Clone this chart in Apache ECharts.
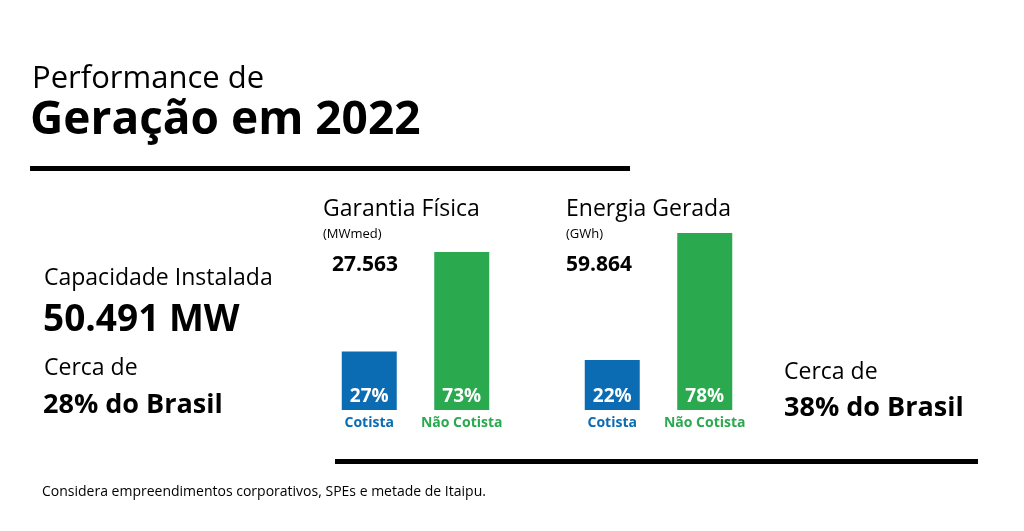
<!DOCTYPE html><html><head><meta charset="utf-8">
<script src="https://cdn.jsdelivr.net/npm/echarts@6/dist/echarts.min.js"></script>
<style>html,body{margin:0;background:#fff}#c{width:1024px;height:531px}</style></head><body><div id="c"></div><script>
const categories=['Cotista','Não Cotista'];
const garantiaPct=[27,73];
const energiaPct=[22,78];
const colors=['#0b6cb4','#2aa94f'];
const F='"Open Sans", Lato, sans-serif';
const ch=echarts.init(document.getElementById('c'));
function mkSeries(data,i){return {type:'bar',xAxisIndex:i,yAxisIndex:i,barWidth:55,data:data.map((v,k)=>({value:v,itemStyle:{color:colors[k]}})),
 label:{show:true,position:'insideBottom',distance:4,formatter:'{c}%',color:'#fff',fontFamily:F,fontWeight:'bold',fontSize:19}};}
function xa(i){return {type:'category',gridIndex:i,data:categories,axisLine:{show:false},axisTick:{show:false},
 axisLabel:{interval:0,margin:6,fontFamily:F,fontWeight:'bold',fontSize:14,formatter:(v,k)=>'{c'+k+'|'+v+'}',rich:{c0:{color:colors[0],fontFamily:F,fontWeight:'bold',fontSize:14},c1:{color:colors[1],fontFamily:F,fontWeight:'bold',fontSize:14}}}};}
function ya(i,m){return {type:'value',gridIndex:i,min:0,max:m,show:false};}
const t=(x,y,text,size,weight,color)=>({type:'text',left:x,top:y,style:{text,fontFamily:F,fontSize:size,fontWeight:weight||'normal',fill:color||'#000'}});
ch.setOption({animation:false,
grid:[{left:323,width:185,top:252,height:158},{left:566,width:185,top:233,height:177}],
xAxis:[xa(0),xa(1)],yAxis:[ya(0,73),ya(1,78)],
series:[mkSeries(garantiaPct,0),mkSeries(energiaPct,1)],
graphic:[
 t(32,64,'Performance de',31),
 t(30,98,'Geração em 2022',46,'bold'),
 {type:'rect',shape:{x:30,y:166,width:600,height:5},style:{fill:'#000'}},
 t(44,267,'Capacidade Instalada',23),
 t(43,302,'50.491 MW',37,'bold'),
 t(44,357,'Cerca de',23),
 t(43,392,'28% do Brasil',27,'bold'),
 t(323,198,'Garantia Física',23),
 t(323,228,'(MWmed)',13),
 t(332,255,'27.563',21,'bold'),
 t(566,198,'Energia Gerada',23),
 t(566,228,'(GWh)',13),
 t(566,255,'59.864',21,'bold'),
 t(784,361,'Cerca de',23),
 t(784,395,'38% do Brasil',27,'bold'),
 {type:'rect',shape:{x:335,y:459,width:643,height:5},style:{fill:'#000'}},
 t(42,485,'Considera empreendimentos corporativos, SPEs e metade de Itaipu.',14)
]});
</script></body></html>
